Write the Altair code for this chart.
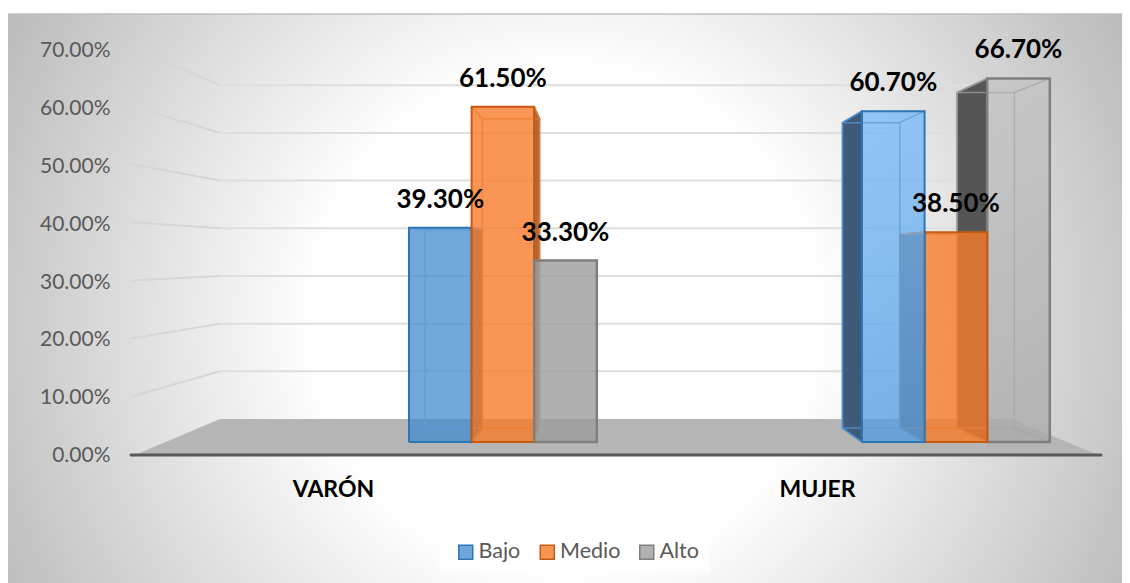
import altair as alt
import pandas as pd

# ---- data ----
categories = ["VARÓN", "MUJER"]
series = ["Bajo", "Medio", "Alto"]
bajo = [39.3, 60.7]
medio = [61.5, 38.5]
alto = [33.3, 66.7]
axis_ticks = [0, 10, 20, 30, 40, 50, 60, 70]

values = {"Bajo": bajo, "Medio": medio, "Alto": alto}

# ---- layout ----
W, H = 1114, 569
OX, OY = 8, 14           # page position of the plot area
PX_PER_UNIT = 5.45       # front plane of the bars
BASE_PAGE_Y = 442
group_left = [409, 862]  # page x of the front-left edge of each group
back_left = [425, 842.5]
bar_w = 62.6
DEPTH_X = 0.915


def front_y(v):
    return v


def back_y(v):      # back plane of a bar, expressed in front-plane units
    return 2.57 + 0.923 * v


def wall_y(v):      # rear wall
    return 4.22 + 0.875 * v


def edge_y(v):      # front edge of the left wall
    return -2.385 + 1.068 * v


sx = alt.Scale(domain=[0, W], range=[0, W], nice=False, zero=False)
sy = alt.Scale(
    domain=[(BASE_PAGE_Y - OY - H) / PX_PER_UNIT, (BASE_PAGE_Y - OY) / PX_PER_UNIT],
    nice=False, zero=False,
)
X = alt.X("x:Q", scale=sx, axis=None)
Y = alt.Y("y:Q", scale=sy, axis=None, stack=None)


def px(p):
    return p - OX


def vface(x0, x1, t0, t1, b0, b1, **mark):
    df = pd.DataFrame({"x": [x0, x1], "y": [t0, t1], "y2": [b0, b1]})
    return alt.Chart(df).mark_area(orient="vertical", **mark).encode(x=X, y=Y, y2="y2:Q")


def line(points, **mark):
    df = pd.DataFrame({"x": [p[0] for p in points], "y": [p[1] for p in points],
                       "i": list(range(len(points)))})
    return alt.Chart(df).mark_line(**mark).encode(x=X, y=Y, order="i:Q")


def grad(top, bottom):
    return alt.LinearGradient(gradient="linear", x1=0, x2=0, y1=0, y2=1,
                              stops=[alt.GradientStop(color=top, offset=0),
                                     alt.GradientStop(color=bottom, offset=1)])


layers = []
one = pd.DataFrame({"a": [0]})

# panel
layers.append(alt.Chart(one).mark_rect(
    fill=alt.RadialGradient(gradient="radial", x1=0.5, y1=0.519, r1=0, x2=0.5, y2=0.519, r2=0.574,
                            stops=[alt.GradientStop(color="#ffffff", offset=0),
                                   alt.GradientStop(color="#ffffff", offset=0.39),
                                   alt.GradientStop(color="#bababa", offset=1)])
).encode(x=alt.value(0), x2=alt.value(W), y=alt.value(0), y2=alt.value(H)))
layers.append(alt.Chart(one).mark_rule(stroke="#bfbfbf", strokeWidth=1.5).encode(
    x=alt.value(0), x2=alt.value(W), y=alt.value(0)))

# rear wall grid lines
for t in axis_ticks[1:]:
    start = 131 if t < 70 else 148
    frac = (start - 131) / 89
    ystart = edge_y(t) + (wall_y(t) - edge_y(t)) * frac
    layers.append(line([(px(start), ystart), (px(220), wall_y(t))],
                       stroke="#d6d6d6", strokeWidth=2))
    layers.append(line([(px(220), wall_y(t)), (px(1012), wall_y(t))],
                       stroke="#dedede", strokeWidth=2))

# floor
floor = pd.DataFrame({"y": [edge_y(0), wall_y(0)], "x": [px(135), px(220)], "x2": [px(1098), px(1012)]})
layers.append(alt.Chart(floor).mark_area(orient="horizontal", fill="#b5b5b5").encode(
    x=X, x2="x2:Q", y=Y))
layers.append(line([(px(131), edge_y(0)), (px(1101), edge_y(0))],
                   stroke="#595959", strokeWidth=3, strokeCap="round"))

style = {
    "Bajo": dict(stroke="#2e75b6", inner="#5b9bd5", side="#3d5a78", flat="#448bcf",
                 fill=grad("#74b8fa", "#519be0"), width=2),
    "Medio": dict(stroke="#c55a11", inner="#ed7d31", side="#746860", flat="#f77c2a",
                  fill="#f77c2a", width=2),
    "Alto": dict(stroke="#7f7f7f", inner="#a5a5a5", side="#555555", flat="#9c9c9c",
                 fill=grad("#c4c4c4", "#aaaaaa"), width=2.5),
}
right_side = {"Bajo": "#3d5a78", "Medio": "#9c4f1e", "Alto": "#555555"}

orders = [series, series[::-1]]
for c, cat in enumerate(categories):
    for s_name in orders[c]:
        s = series.index(s_name)
        v = values[s_name][c]
        st = style[s_name]
        fl = group_left[c] + s * bar_w
        fr = fl + bar_w
        bl = back_left[c] + (fl - group_left[c]) * DEPTH_X
        br = back_left[c] + (fr - group_left[c]) * DEPTH_X
        if bl < fl:
            layers.append(vface(px(bl), px(fl), back_y(v), front_y(v), back_y(0), 0,
                                fill=st["side"], stroke=st["stroke"], strokeWidth=1.5))
        if br > fr:
            layers.append(vface(px(fr), px(br), front_y(v), back_y(v), 0, back_y(0),
                                fill=right_side[s_name], stroke=st["stroke"], strokeWidth=1.5,
                                opacity=0.85))
        opacity = 0.75 if s_name == "Bajo" else 0.8
        fill = st["flat"] if c == 0 else st["fill"]
        layers.append(vface(px(fl), px(fr), v, v, 0, 0, fill=fill, opacity=opacity))
        # inner edges
        layers.append(line([(px(bl), back_y(v)), (px(br), back_y(v)), (px(br), back_y(0)),
                            (px(bl), back_y(0)), (px(bl), back_y(v))],
                           stroke=st["inner"], strokeWidth=1.5, opacity=0.7))
        for a, b in [((fl, v), (bl, back_y(v))), ((fr, v), (br, back_y(v))),
                     ((fl, 0), (bl, back_y(0))), ((fr, 0), (br, back_y(0)))]:
            layers.append(line([(px(a[0]), a[1]), (px(b[0]), b[1])],
                               stroke=st["inner"], strokeWidth=1.5, opacity=0.7))
        layers.append(line([(px(fl), 0), (px(fl), v), (px(fr), v), (px(fr), 0), (px(fl), 0)],
                           stroke=st["stroke"], strokeWidth=st["width"]))

# legend background
layers.append(alt.Chart(one).mark_rect(fill="#ffffff", opacity=0.6).encode(
    x=alt.value(px(439)), x2=alt.value(px(710)), y=alt.value(528 - OY), y2=alt.value(573 - OY)))

# data labels
rows = []
for c, cat in enumerate(categories):
    for s, s_name in enumerate(series):
        v = values[s_name][c]
        rows.append({"x": px(group_left[c] + (s + 0.5) * bar_w), "y": v, "label": f"{v:.2f}%"})
layers.append(alt.Chart(pd.DataFrame(rows)).mark_text(
    font="Lato", fontSize=26, fontWeight="bold", color="#000000", baseline="middle", dy=-28
).encode(x=X, y=alt.Y("y:Q", scale=sy, axis=None), text="label:N"))

# value axis (plane of the left wall edge)
AX_PX = 5.79
AX_ZERO = 455.7 - OY
layers.append(alt.Chart(pd.DataFrame({"t": [t / 100 for t in axis_ticks]})).mark_point(opacity=0).encode(
    y=alt.Y("t:Q", scale=alt.Scale(domain=[(AX_ZERO - H) / AX_PX / 100, AX_ZERO / AX_PX / 100],
                                   nice=False, zero=False),
            axis=alt.Axis(orient="left", values=[t / 100 for t in axis_ticks], format=".2%", title=None,
                          grid=False, domain=False, ticks=False, labelPadding=0, offset=-(110 - OX),
                          labelFont="Lato", labelFontSize=21, labelColor="#595959", zindex=1))))

# category axis
layers.append(alt.Chart(pd.DataFrame({"c": categories})).mark_point(opacity=0).encode(
    x=alt.X("c:N", sort=categories, scale=alt.Scale(domain=categories, range=[px(333 - 242), px(817 + 242)],
                                                     paddingInner=0, paddingOuter=0),
            axis=alt.Axis(orient="bottom", title=None, labelAngle=0, grid=False, domain=False, ticks=False,
                          labelPadding=0, offset=-(583 - 489), labelBaseline="middle",
                          labelFont="Lato", labelFontSize=23, labelFontWeight="bold",
                          labelColor="#000000", zindex=1))))

# legend
fills = ["#6ea5da", "#f79652", "#b0b0b0"]
strokes = ["#2e75b6", "#c55a11", "#7f7f7f"]
leg = alt.Legend(orient="none", legendX=px(455), legendY=541 - OY, direction="horizontal", columns=3,
                 title=None, symbolType="square", symbolSize=196, symbolStrokeWidth=1.5, symbolOpacity=1,
                 labelFont="Lato", labelFontSize=21.5, labelColor="#595959", labelOffset=2,
                 columnPadding=15.5, padding=0)
layers.append(alt.Chart(pd.DataFrame({"s": series})).mark_point(filled=True, opacity=0, shape="square").encode(
    x=alt.value(0), y=alt.value(0),
    fill=alt.Fill("s:N", sort=series, scale=alt.Scale(domain=series, range=fills), legend=leg),
    stroke=alt.Stroke("s:N", sort=series, scale=alt.Scale(domain=series, range=strokes), legend=leg),
))

chart = alt.layer(*layers).resolve_scale(x="independent", y="independent").properties(
    width=W, height=H,
    padding={"left": 0, "top": 6, "right": 0, "bottom": 0},
    autosize=alt.AutoSizeParams(type="none"),
).configure_view(stroke=None)

chart.save("out.html", embed_options={"renderer": "svg", "actions": False})
